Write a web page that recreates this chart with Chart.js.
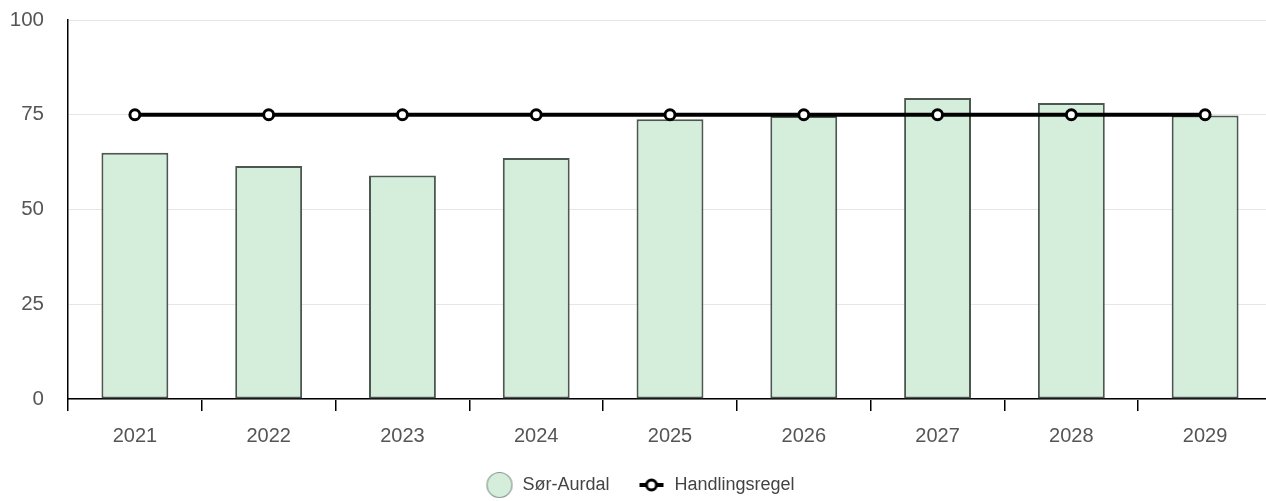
<!DOCTYPE html>
<html>
<head>
<meta charset="utf-8">
<script src="https://cdn.jsdelivr.net/npm/chart.js@4/dist/chart.umd.min.js"></script>
<style>
  html, body { margin: 0; padding: 0; background: #fff; overflow: hidden; }
  #wrap { width: 1280px; height: 501px; }
</style>
</head>
<body>
<div id="wrap"><canvas id="chart"></canvas></div>
<script>
const years = ['2021', '2022', '2023', '2024', '2025', '2026', '2027', '2028', '2029'];
const sorAurdal = [65, 61.5, 59, 63.6, 73.8, 74.7, 79.4, 78.1, 74.8];
const handlingsregel = [75, 75, 75, 75, 75, 75, 75, 75, 75];
const yTicks = [0, 25, 50, 75, 100];

const barFill = '#d4eedb';
const barBorder = '#4b574f';

// legend symbols drawn by hand: a round swatch for the bars, line + ring for the rule
function circleSymbol() {
  const c = document.createElement('canvas');
  c.width = 28; c.height = 28;
  const g = c.getContext('2d');
  g.beginPath();
  g.arc(14, 14, 12.5, 0, Math.PI * 2);
  g.fillStyle = barFill;
  g.fill();
  g.lineWidth = 1.2;
  g.strokeStyle = '#8a9a8e';
  g.stroke();
  return c;
}

function lineSymbol() {
  const c = document.createElement('canvas');
  c.width = 26; c.height = 16;
  const g = c.getContext('2d');
  g.beginPath();
  g.moveTo(1, 8); g.lineTo(25, 8);
  g.lineWidth = 4;
  g.strokeStyle = '#000';
  g.stroke();
  g.beginPath();
  g.arc(13, 8, 5, 0, Math.PI * 2);
  g.fillStyle = '#fff';
  g.fill();
  g.lineWidth = 3;
  g.stroke();
  return c;
}

const symbols = [lineSymbol(), circleSymbol()];

Chart.defaults.font.family = "'Liberation Sans', Arial, sans-serif";
Chart.defaults.color = '#555';

new Chart(document.getElementById('chart'), {
  data: {
    labels: years,
    datasets: [
      {
        type: 'line',
        label: 'Handlingsregel',
        data: handlingsregel,
        borderColor: '#000',
        borderWidth: 4,
        pointRadius: 5,
        pointBorderWidth: 3,
        pointBackgroundColor: '#fff',
        pointBorderColor: '#000',
        tension: 0
      },
      {
        type: 'bar',
        label: 'Sør-Aurdal',
        data: sorAurdal,
        backgroundColor: barFill,
        borderColor: barBorder,
        borderWidth: 2,
        borderSkipped: false,
        categoryPercentage: 1,
        barPercentage: 0.5
      }
    ]
  },
  options: {
    responsive: true,
    maintainAspectRatio: false,
    animation: false,
    layout: { padding: { top: 20, left: 0, right: 0, bottom: -3 } },
    scales: {
      x: {
        offset: true,
        afterFit: axis => { axis.height = 49; axis.paddingLeft = 0; axis.paddingRight = 0; },
        grid: { offset: true, drawOnChartArea: false, color: '#000', tickLength: 12, lineWidth: 1.5 },
        border: { color: '#000', width: 1.5 },
        ticks: { font: { size: 20 }, color: '#555', padding: 13 }
      },
      y: {
        min: 0,
        max: 100,
        afterFit: axis => { axis.width = 68; axis.paddingTop = 0; axis.paddingBottom = 0; },
        afterBuildTicks: axis => { axis.ticks = yTicks.map(v => ({ value: v })); },
        grid: { color: '#e6e6e6', lineWidth: 1, drawTicks: false },
        border: { color: '#000', width: 1.5 },
        ticks: { font: { size: 20.5 }, color: '#555', padding: 24 }
      }
    },
    plugins: {
      tooltip: { enabled: false },
      legend: {
        position: 'bottom',
        labels: {
          usePointStyle: true,
          pointStyleWidth: 28,
          padding: 28,
          color: '#444',
          font: { size: 18 },
          sort: (a, b) => b.datasetIndex - a.datasetIndex,
          generateLabels: chart => chart.data.datasets.map((ds, i) => ({
            text: ds.label,
            datasetIndex: i,
            pointStyle: symbols[i],
            fillStyle: 'transparent',
            strokeStyle: 'transparent',
            lineWidth: 0,
            fontColor: '#444',
            hidden: false
          }))
        }
      }
    }
  }
});
</script>
</body>
</html>
